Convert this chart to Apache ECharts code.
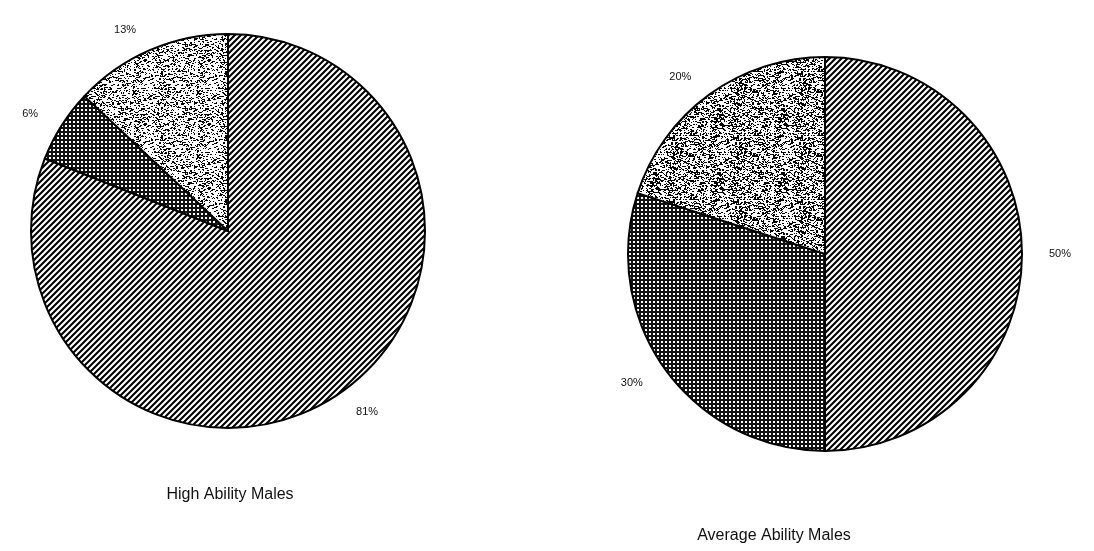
<!DOCTYPE html>
<html>
<head>
<meta charset="utf-8">
<script src="https://cdn.jsdelivr.net/npm/echarts@6/dist/echarts.min.js"></script>
<style>
  html, body { margin: 0; padding: 0; background: #fff; }
  #chart { width: 1094px; height: 551px; }
</style>
</head>
<body>
<div id="chart"></div>
<script>
  // slices, clockwise from 12 o'clock
  var sliceNames = ['Hatched', 'Dotted', 'Speckled']
  var highValues = [81, 6, 13]
  var averageValues = [50, 30, 20]
  var titles = ['High Ability Males', 'Average Ability Males']

  // black & white fill textures
  function hatchPattern () {
    var n = 6
    var c = document.createElement('canvas')
    c.width = n; c.height = n
    var g = c.getContext('2d')
    g.fillStyle = '#fff'; g.fillRect(0, 0, n, n)
    g.strokeStyle = '#000'; g.lineWidth = 2.1
    g.beginPath()
    g.moveTo(-2, n + 2); g.lineTo(n + 2, -2)      // x + y = n
    g.moveTo(-2, 2); g.lineTo(2, -2)              // x + y = 0 (corner)
    g.moveTo(n - 2, n + 2); g.lineTo(n + 2, n - 2) // x + y = 2n (corner)
    g.stroke()
    return c
  }
  function dotPattern () {
    var c = document.createElement('canvas')
    c.width = 4; c.height = 4
    var g = c.getContext('2d')
    g.fillStyle = '#111'; g.fillRect(0, 0, 4, 4)
    g.fillStyle = '#fff'; g.fillRect(1, 1, 2, 2)
    return c
  }
  function specklePattern (density) {
    var c = document.createElement('canvas')
    c.width = 64; c.height = 64
    var g = c.getContext('2d')
    g.fillStyle = '#fff'; g.fillRect(0, 0, 64, 64)
    g.fillStyle = '#000'
    var s = 12345
    for (var i = 0; i < 64 * 64; i++) {
      s = (s * 1103515245 + 12345) & 0x7fffffff
      if ((s % 1000) / 1000 < density) {
        var x = i % 64, y = Math.floor(i / 64)
        g.fillRect(x, y, (s >> 8) % 2 + 1, 1)
      }
    }
    return c
  }

  var fills = [
    { image: hatchPattern(), repeat: 'repeat' },
    { image: dotPattern(), repeat: 'repeat' },
    null
  ]

  function pieSeries (values, center, speck) {
    return {
      type: 'pie',
      center: center,
      radius: 197,
      startAngle: 90,
      clockwise: true,
      animation: false,
      silent: true,
      label: {
        show: true,
        position: 'outside',
        formatter: '{c}%',
        fontFamily: 'Liberation Sans, Arial, sans-serif',
        fontSize: 11,
        color: '#111'
      },
      labelLine: { show: false, length: 22, length2: 0 },
      itemStyle: { borderColor: '#000', borderWidth: 2 },
      data: values.map(function (v, i) {
        return {
          name: sliceNames[i],
          value: v,
          itemStyle: { color: i === 2 ? { image: specklePattern(speck), repeat: 'repeat' } : fills[i] }
        }
      })
    }
  }

  var chart = echarts.init(document.getElementById('chart'), null, { renderer: 'canvas' })
  chart.setOption({
    backgroundColor: '#fff',
    title: [{
      text: titles[0], left: 225, top: 482, textAlign: 'center',
      textStyle: { fontFamily: 'Liberation Sans, Arial, sans-serif', fontSize: 16, fontWeight: 'normal', color: '#111' }
    }, {
      text: titles[1], left: 769, top: 523, textAlign: 'center',
      textStyle: { fontFamily: 'Liberation Sans, Arial, sans-serif', fontSize: 16, fontWeight: 'normal', color: '#111' }
    }],
    series: [
      pieSeries(highValues, [228, 231], 0.22),
      pieSeries(averageValues, [825, 254], 0.30)
    ]
  })
</script>
</body>
</html>
